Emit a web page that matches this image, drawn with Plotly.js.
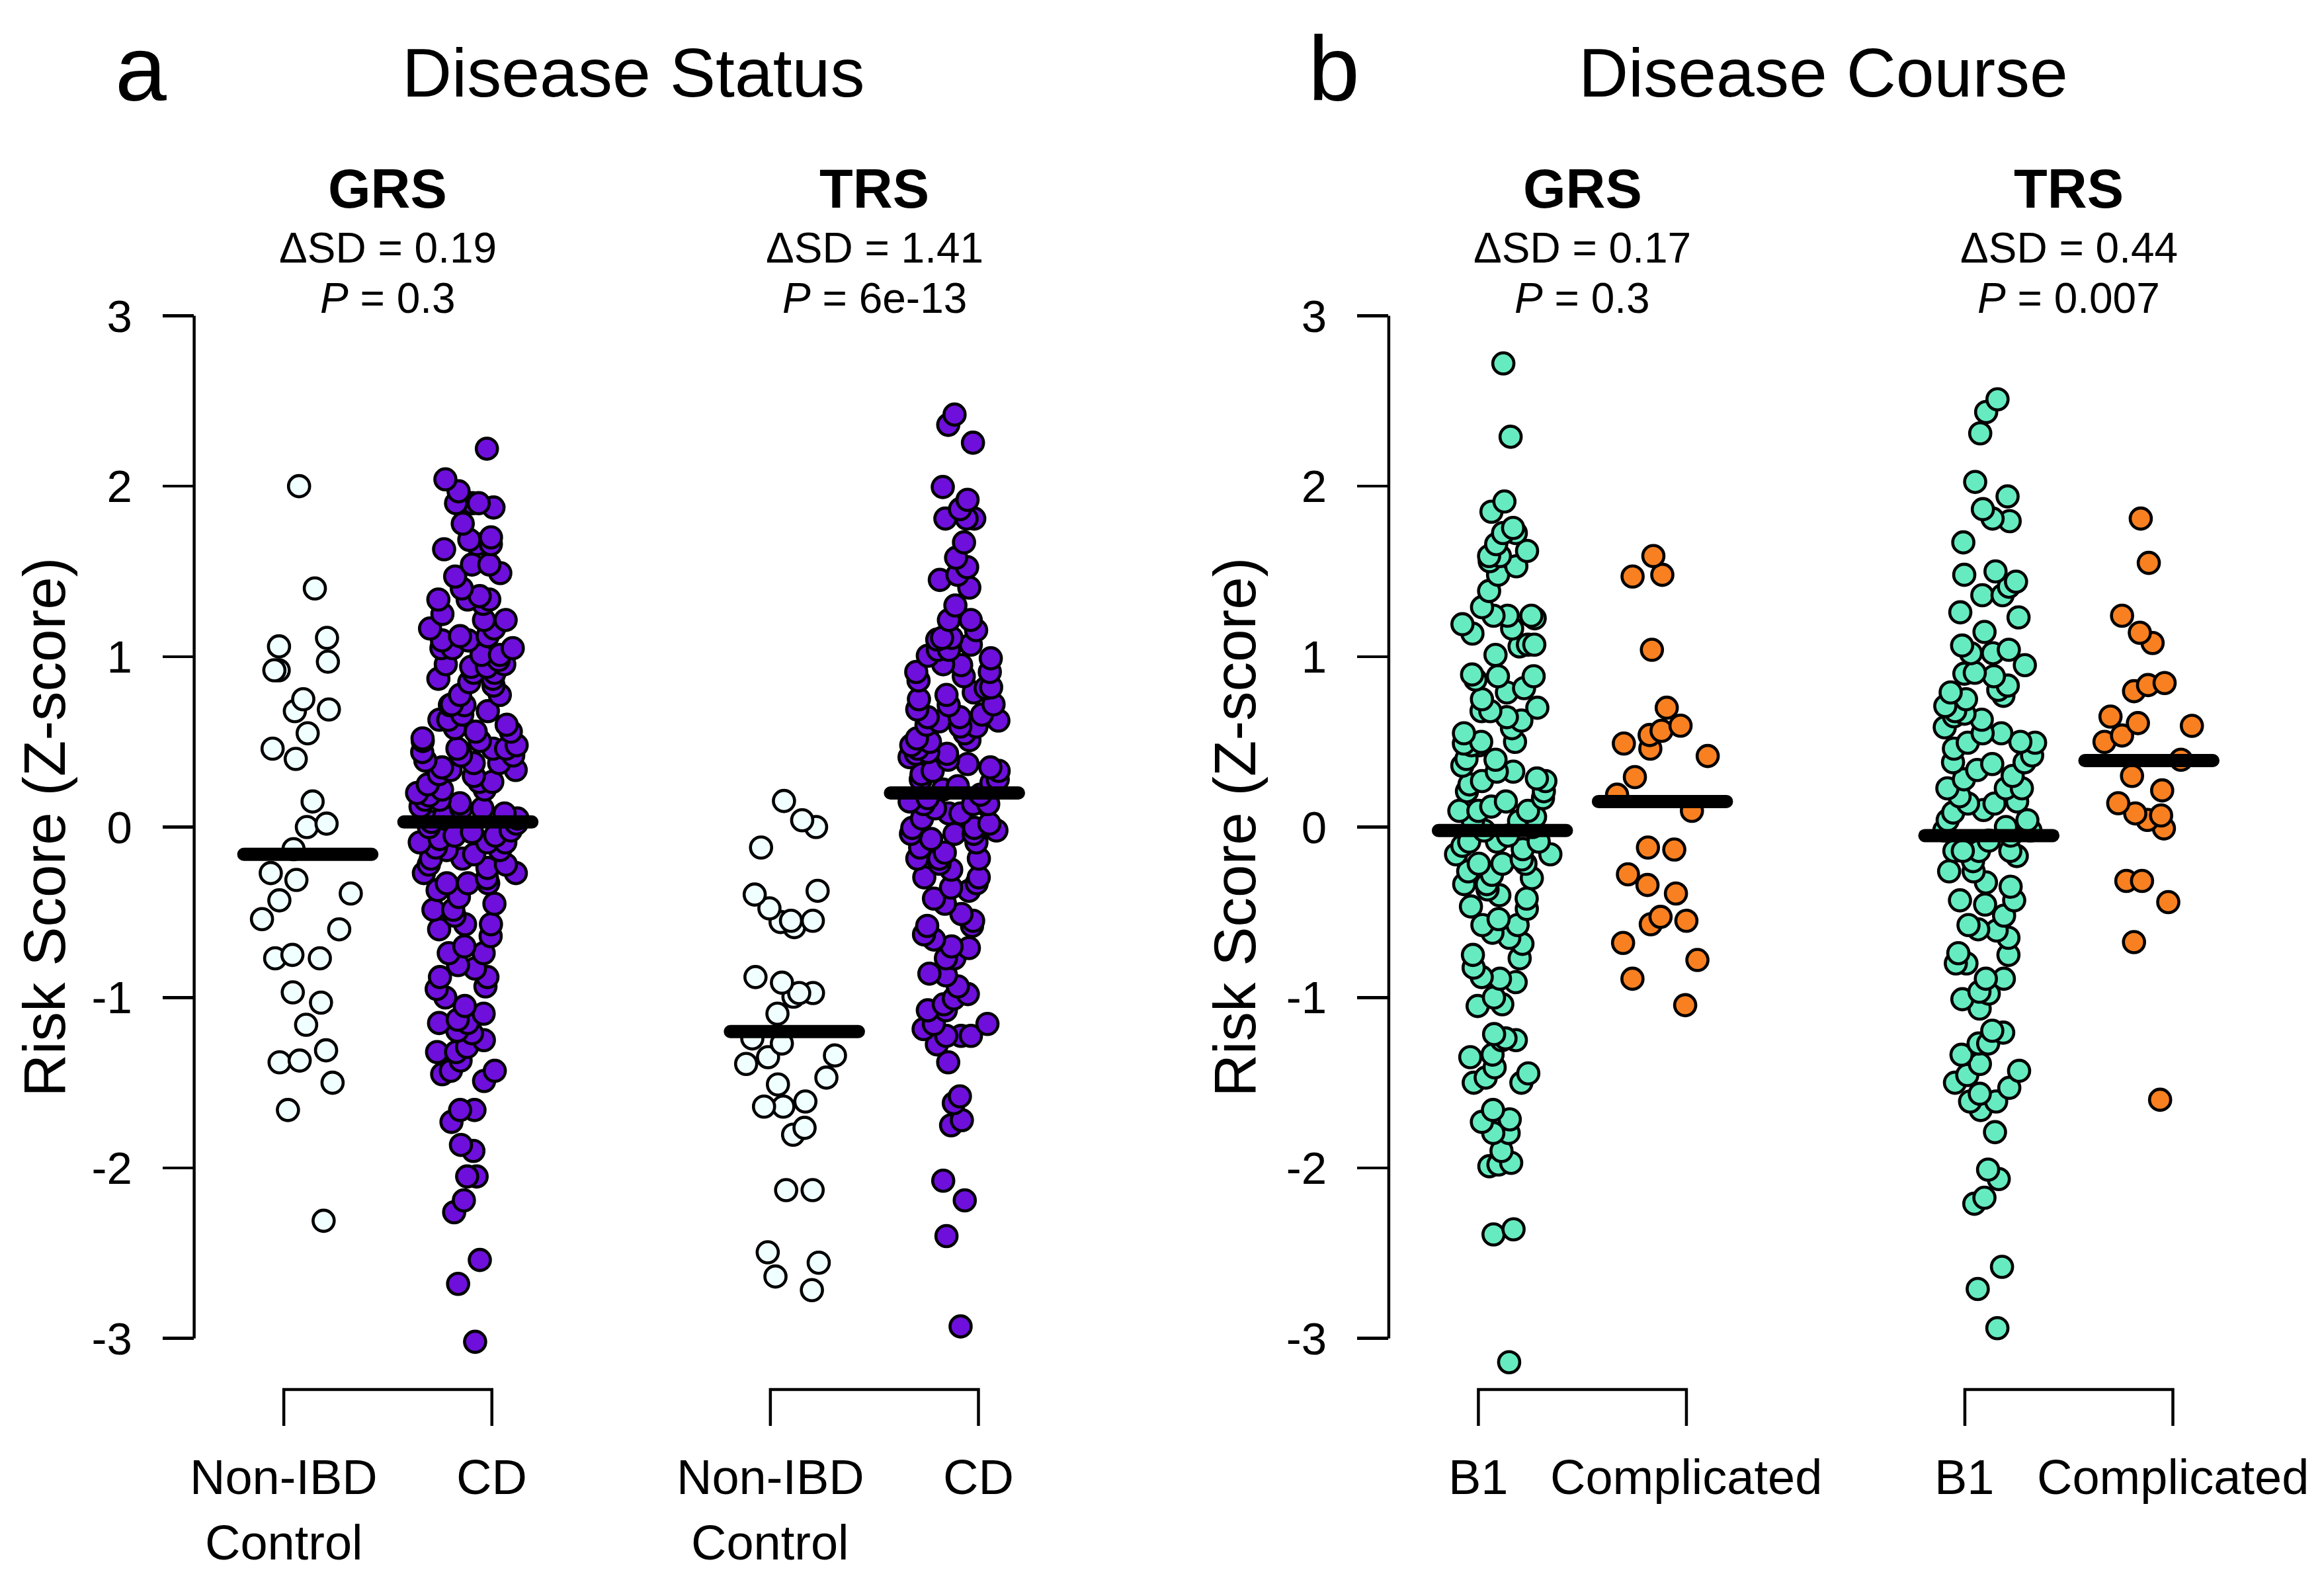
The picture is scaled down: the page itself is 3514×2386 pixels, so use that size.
<!DOCTYPE html>
<html><head><meta charset="utf-8">
<script src="https://cdn.plot.ly/plotly-3.0.1.min.js"></script>
<style>html,body{margin:0;padding:0;background:#fff;}#chart{width:3514px;height:2386px;}</style>
</head><body><div id="chart"></div>
<script>
// ---------------- DATA ----------------
const panelTitles = ["Disease Status", "Disease Course"];
const panelLetters = ["a", "b"];
const scoreNames = ["GRS", "TRS"];
const groupLabelsA = ["Non-IBD<br>Control", "CD"];
const groupLabelsB = ["B1", "Complicated"];
const deltaSD = ["0.19", "1.41", "0.17", "0.44"];
const pValues = ["0.3", "6e-13", "0.3", "0.007"];
const yTickVals = [-3, -2, -1, 0, 1, 2, 3];
const yTickText = ["-3", "-2", "-1", "0", "1", "2", "3"];
const yTitle = "Risk Score (Z-score)";

// group means (thick black bars)
const meansA = [-0.16, 0.03, -1.20, 0.20];
const meansB = [-0.02, 0.15, -0.05, 0.39];

// Panel a, GRS
const grsControl = [2.0, 1.40, 1.11, 1.06, 0.97, 0.92, 0.92, 0.75, 0.69, 0.68, 0.55, 0.46, 0.40, 0.15, 0.02, 0.0,
  -0.13, -0.27, -0.31, -0.39, -0.43, -0.54, -0.60, -0.75, -0.77, -0.77, -0.97, -1.03, -1.16, -1.31, -1.37, -1.38,
  -1.50, -1.66, -2.31];
const grsCD = [2.22, 2.04, 1.97, 1.90, 1.90, 1.90, 1.875, 1.78, 1.70, 1.685, 1.66, 1.66, 1.63, 1.54, 1.54, 1.49,
  1.47, 1.40, 1.355, 1.335, 1.335, 1.335, 1.31, 1.25, 1.215, 1.215, 1.165, 1.165, 1.12, 1.12, 1.095, 1.095, 1.05, 1.05,
  1.05, 1.01, 1.01, 0.98, 0.955, 0.955, 0.94, 0.94, 0.905, 0.905, 0.87, 0.87, 0.85, 0.83, 0.775, 0.775, 0.72, 0.715,
  0.715, 0.68, 0.66, 0.63, 0.63, 0.60, 0.58, 0.56, 0.56, 0.52, 0.505, 0.505, 0.48, 0.46, 0.46, 0.46, 0.44, 0.42, 0.42,
  0.39, 0.375, 0.375, 0.35, 0.335, 0.335, 0.31, 0.30, 0.265, 0.265, 0.25, 0.22, 0.22, 0.20, 0.185, 0.16, 0.16, 0.14,
  0.12, 0.11, 0.11, 0.08, 0.06, 0.05, 0.03, 0.02, 0.0, -0.02, -0.03, -0.05, -0.05, -0.07, -0.09, -0.09, -0.09, -0.12,
  -0.135, -0.135, -0.16, -0.185, -0.185, -0.22, -0.22, -0.24, -0.27, -0.27, -0.30, -0.33, -0.33, -0.33, -0.37, -0.41,
  -0.45, -0.485, -0.485, -0.52, -0.57, -0.57, -0.60, -0.64, -0.70, -0.74, -0.74, -0.81, -0.83, -0.88, -0.88, -0.935,
  -0.95, -1.0, -1.05, -1.095, -1.13, -1.15, -1.15, -1.195, -1.21, -1.25, -1.29, -1.32, -1.32, -1.37, -1.43, -1.43,
  -1.45, -1.49, -1.66, -1.66, -1.73, -1.865, -1.90, -2.05, -2.05, -2.19, -2.26, -2.54, -2.68, -3.02];
// Panel a, TRS
const trsControl = [0.153, 0.04, 0.0, -0.12, -0.374, -0.396, -0.477, -0.55, -0.55, -0.557, -0.587, -0.88, -0.913,
  -0.974, -0.974, -0.995, -1.095, -1.24, -1.27, -1.34, -1.35, -1.39, -1.47, -1.51, -1.61, -1.64, -1.64, -1.765, -1.805,
  -2.13, -2.13, -2.495, -2.556, -2.637, -2.717];
const trsCD = [2.42, 2.36, 2.255, 1.995, 1.92, 1.865, 1.81, 1.81, 1.81, 1.67, 1.58, 1.525, 1.48, 1.45, 1.405, 1.30,
  1.215, 1.215, 1.155, 1.11, 1.11, 1.10, 1.07, 1.04, 1.04, 1.005, 0.99, 0.955, 0.95, 0.91, 0.91, 0.885, 0.86, 0.82,
  0.815, 0.79, 0.775, 0.75, 0.72, 0.715, 0.69, 0.66, 0.645, 0.645, 0.625, 0.62, 0.60, 0.59, 0.59, 0.55, 0.52, 0.51,
  0.50, 0.48, 0.46, 0.44, 0.43, 0.43, 0.41, 0.395, 0.37, 0.35, 0.33, 0.33, 0.31, 0.28, 0.28, 0.26, 0.24, 0.22, 0.19,
  0.17, 0.15, 0.135, 0.135, 0.135, 0.135, 0.11, 0.08, 0.08, 0.05, 0.02, -0.005, -0.005, -0.02, -0.04, -0.04, -0.04,
  -0.07, -0.09, -0.12, -0.15, -0.185, -0.185, -0.185, -0.215, -0.25, -0.295, -0.295, -0.33, -0.355, -0.374, -0.42,
  -0.45, -0.51, -0.55, -0.58, -0.58, -0.63, -0.66, -0.70, -0.71, -0.77, -0.77, -0.86, -0.87, -0.935, -0.98, -1.006,
  -1.04, -1.075, -1.075, -1.155, -1.155, -1.185, -1.225, -1.225, -1.225, -1.275, -1.38, -1.58, -1.62, -1.72, -1.75,
  -2.075, -2.19, -2.40, -2.93];
// Panel b, GRS
const grsB1 = [2.72, 2.29, 1.91, 1.85, 1.755, 1.725, 1.725, 1.66, 1.62, 1.59, 1.59, 1.56, 1.53, 1.48, 1.385, 1.29,
  1.24, 1.24, 1.24, 1.225, 1.19, 1.165, 1.135, 1.07, 1.07, 1.06, 1.01, 0.895, 0.885, 0.885, 0.865, 0.815, 0.79, 0.75,
  0.70, 0.68, 0.68, 0.645, 0.625, 0.58, 0.55, 0.50, 0.50, 0.49, 0.48, 0.48, 0.40, 0.395, 0.36, 0.325, 0.325, 0.285,
  0.27, 0.27, 0.25, 0.21, 0.21, 0.17, 0.15, 0.12, 0.095, 0.095, 0.095, 0.06, 0.035, 0.035, 0.0, -0.02, -0.05, -0.085,
  -0.085, -0.085, -0.11, -0.13, -0.16, -0.16, -0.19, -0.215, -0.215, -0.215, -0.26, -0.28, -0.30, -0.335, -0.335,
  -0.366, -0.40, -0.42, -0.466, -0.48, -0.54, -0.575, -0.575, -0.62, -0.65, -0.685, -0.75, -0.77, -0.825, -0.88,
  -0.89, -0.91, -1.0, -1.04, -1.05, -1.215, -1.24, -1.25, -1.25, -1.335, -1.35, -1.41, -1.445, -1.47, -1.50, -1.50,
  -1.66, -1.715, -1.73, -1.795, -1.795, -1.90, -1.97, -1.98, -1.99, -2.36, -2.39, -3.14];
const grsComplicated = [1.59, 1.48, 1.47, 1.04, 0.70, 0.595, 0.565, 0.54, 0.49, 0.46, 0.417, 0.293, 0.19, 0.095,
  -0.12, -0.132, -0.277, -0.34, -0.39, -0.527, -0.55, -0.57, -0.68, -0.78, -0.89, -1.045];
// Panel b, TRS
const trsB1 = [2.51, 2.435, 2.31, 2.025, 1.94, 1.865, 1.81, 1.795, 1.67, 1.50, 1.48, 1.44, 1.41, 1.36, 1.36, 1.26,
  1.23, 1.145, 1.065, 1.04, 1.02, 1.02, 0.95, 0.905, 0.90, 0.885, 0.83, 0.805, 0.79, 0.77, 0.75, 0.71, 0.68, 0.665,
  0.65, 0.63, 0.585, 0.55, 0.55, 0.50, 0.495, 0.495, 0.46, 0.42, 0.38, 0.38, 0.37, 0.335, 0.30, 0.28, 0.227, 0.227,
  0.227, 0.18, 0.15, 0.138, 0.138, 0.10, 0.085, 0.04, 0.04, 0.0, -0.02, -0.02, -0.05, -0.08, -0.14, -0.14, -0.14,
  -0.14, -0.17, -0.20, -0.26, -0.26, -0.325, -0.35, -0.43, -0.43, -0.455, -0.52, -0.575, -0.60, -0.607, -0.65, -0.74,
  -0.75, -0.80, -0.80, -0.89, -0.89, -0.966, -0.977, -1.01, -1.065, -1.195, -1.206, -1.27, -1.27, -1.336, -1.39,
  -1.43, -1.455, -1.50, -1.53, -1.565, -1.61, -1.61, -1.66, -1.79, -2.01, -2.065, -2.175, -2.21, -2.58, -2.71, -2.94];
const trsComplicated = [1.81, 1.55, 1.24, 1.14, 1.08, 0.845, 0.833, 0.797, 0.648, 0.61, 0.594, 0.537, 0.50, 0.395,
  0.30, 0.215, 0.14, 0.08, 0.068, 0.042, -0.008, -0.316, -0.316, -0.44, -0.675, -1.60];

// ---------------- LAYOUT CONSTANTS ----------------
const W = 3514, H = 2386;
const FONT = "Liberation Sans, Arial, Helvetica, sans-serif";
const colPos = [1, 2, 4.04, 5.04];          // x positions of the four point columns
const bracketPos = [0.85, 2.15, 3.89, 5.19]; // bracket ends
const groupCenters = [1.5, 4.54];
const xRange = [0.29, 5.75];
const domA = [293.6 / W, 1615 / W];
const domB = [2099.9 / W, 3421 / W];
const yDom = [1 - 2101 / H, 1 - 400.1 / H];
const yRange = [-3.3, 3.3];
const fills = {
  control: "#F0FFFF", cd: "#6E0FDB", b1: "#66EBC0", comp: "#F88020"
};

const panels = [
  {xa: "x", ya: "y", cols: [grsControl, grsCD, trsControl, trsCD],
   colors: [fills.control, fills.cd, fills.control, fills.cd], means: meansA, labels: groupLabelsA},
  {xa: "x2", ya: "y2", cols: [grsB1, grsComplicated, trsB1, trsComplicated],
   colors: [fills.b1, fills.comp, fills.b1, fills.comp], means: meansB, labels: groupLabelsB}
];

const traces = [];
const shapes = [];
const annotations = [];

panels.forEach((p, pi) => {
  p.cols.forEach((vals, ci) => {
    traces.push({
      type: "box", x0: colPos[ci], y: vals, xaxis: p.xa, yaxis: p.ya,
      width: 0.64, boxpoints: "all", jitter: 1, pointpos: 0,
      fillcolor: "rgba(0,0,0,0)", line: {width: 0, color: "rgba(0,0,0,0)"},
      marker: {size: 32, color: p.colors[ci], opacity: 1, line: {color: "#000", width: 4.6}},
      hoverinfo: "skip", showlegend: false
    });
  });
  p.means.forEach((m, ci) => {
    traces.push({
      type: "scatter", mode: "lines", x: [colPos[ci] - 0.40, colPos[ci] + 0.40], y: [m, m],
      xaxis: p.xa, yaxis: p.ya, line: {color: "#000", width: 20},
      hoverinfo: "skip", showlegend: false
    });
  });
  // y axis line from -3 to 3
  shapes.push({type: "line", xref: p.xa + " domain", x0: 0, x1: 0, yref: p.ya, y0: -3, y1: 3,
    line: {color: "#000", width: 4.5}});
  // brackets
  const yTop = 1 - 2101 / H, yBot = 1 - 2156 / H;
  [0, 2].forEach(k => {
    const a = bracketPos[k], b = bracketPos[k + 1];
    shapes.push({type: "path", xref: p.xa, yref: "paper",
      path: `M ${a},${yBot} L ${a},${yTop} L ${b},${yTop} L ${b},${yBot}`,
      line: {color: "#000", width: 4.5}});
    // group labels
    [0, 1].forEach(j => {
      const lines = p.labels[j].split("<br>");
      lines.forEach((t, li) => {
        annotations.push({xref: p.xa, yref: "paper", x: bracketPos[k + j], y: li === 0 ? 1 - 2233 / H : 1 - 2332 / H,
          text: t, showarrow: false, xanchor: "center", yanchor: "middle",
          font: {family: FONT, size: 74, color: "#000"}});
      });
    });
  });
  // score headers
  scoreNames.forEach((s, si) => {
    const idx = pi * 2 + si;
    const gx = groupCenters[si];
    annotations.push({xref: p.xa, yref: "paper", x: gx, y: 1 - 285.7 / H, text: "<b>" + s + "</b>",
      showarrow: false, xanchor: "center", yanchor: "middle", font: {family: FONT, size: 83, color: "#000"}});
    annotations.push({xref: p.xa, yref: "paper", x: gx, y: 1 - 374.9 / H, text: "\u0394SD = " + deltaSD[idx],
      showarrow: false, xanchor: "center", yanchor: "middle", font: {family: FONT, size: 64, color: "#000"}});
    annotations.push({xref: p.xa, yref: "paper", x: gx, y: 1 - 451 / H, text: "<i>P</i> = " + pValues[idx],
      showarrow: false, xanchor: "center", yanchor: "middle", font: {family: FONT, size: 64, color: "#000"}});
  });
});

// y titles
[[67 / W, "y"], [1867 / W, "y2"]].forEach(([x, ya]) => {
  annotations.push({xref: "paper", yref: ya, x: x, y: 0, text: yTitle, textangle: -90, showarrow: false,
    xanchor: "center", yanchor: "middle", font: {family: FONT, size: 89, color: "#000"}});
});
// panel letters and titles
[[213 / W, 957 / W], [2017 / W, 2757 / W]].forEach(([lx, tx], i) => {
  annotations.push({xref: "paper", yref: "paper", x: lx, y: 1 - 103.5 / H, text: panelLetters[i], showarrow: false,
    xanchor: "center", yanchor: "middle", font: {family: FONT, size: 140, color: "#000"}});
  annotations.push({xref: "paper", yref: "paper", x: tx, y: 1 - 109.7 / H, text: panelTitles[i], showarrow: false,
    xanchor: "center", yanchor: "middle", font: {family: FONT, size: 104, color: "#000"}});
});

const xCommon = {range: xRange, showgrid: false, zeroline: false, showline: false, showticklabels: false,
  ticks: "", fixedrange: true};
const yCommon = {range: yRange, domain: yDom, showgrid: false, zeroline: false, showline: false,
  tickmode: "array", tickvals: yTickVals, ticktext: yTickText, ticks: "outside", ticklen: 47, tickwidth: 4.5,
  tickcolor: "#000", ticklabelstandoff: 32, tickfont: {family: FONT, size: 69, color: "#000"}, fixedrange: true};

const layout = {
  width: W, height: H, autosize: false,
  margin: {l: 0, r: 0, t: 0, b: 0, pad: 0},
  paper_bgcolor: "#fff", plot_bgcolor: "#fff",
  hovermode: false, showlegend: false,
  font: {family: FONT, color: "#000"},
  xaxis: Object.assign({}, xCommon, {domain: domA, anchor: "y"}),
  yaxis: Object.assign({}, yCommon, {anchor: "x"}),
  xaxis2: Object.assign({}, xCommon, {domain: domB, anchor: "y2"}),
  yaxis2: Object.assign({}, yCommon, {anchor: "x2"}),
  shapes: shapes,
  annotations: annotations
};

Plotly.newPlot("chart", traces, layout, {displayModeBar: false, staticPlot: true}).then(gd => {
  gd.querySelectorAll(".scatterlayer .js-line").forEach(el => { el.style.strokeLinecap = "round"; });
});
</script></body></html>
